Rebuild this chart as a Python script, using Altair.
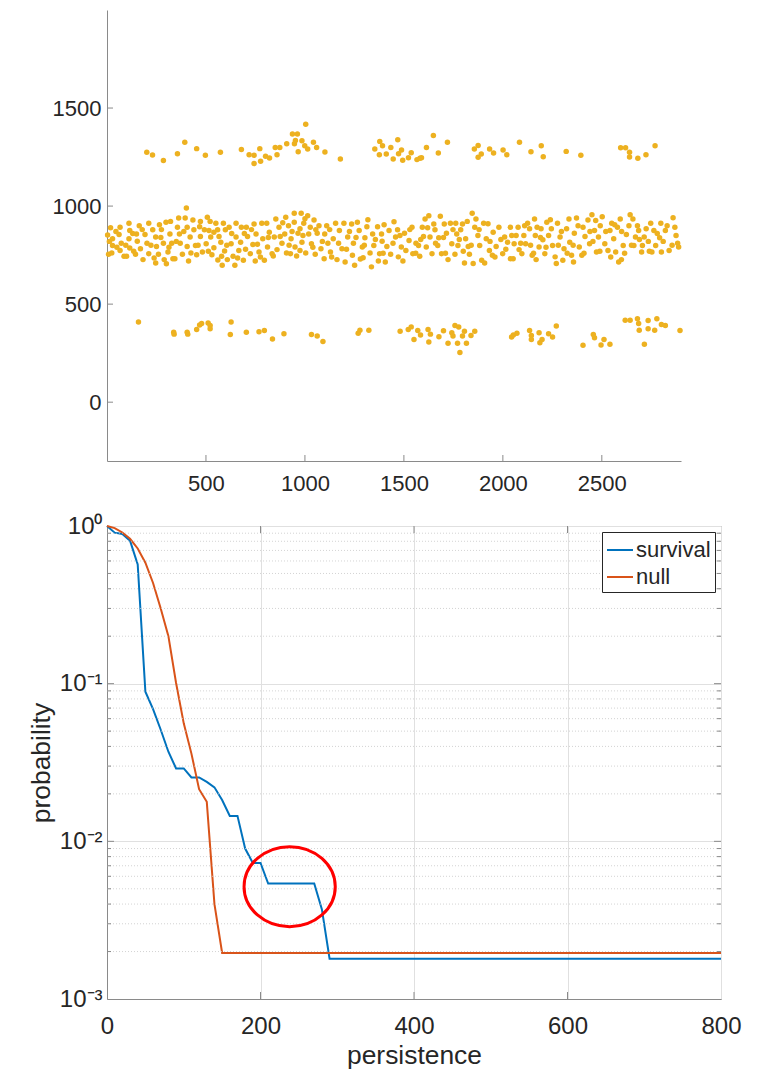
import altair as alt
import pandas as pd

# ---------------- top panel data ----------------
high_points = [(201,1274),(230,1261),(285,1232),(356,1267),(393,1326),(453,1293),(497,1259),(573,1274),
 (679,1289),(718,1262),(743,1259),(743,1217),(772,1293),(776,1229),(801,1254),(821,1245),(850,1299),
 (859,1262),(873,1299),(908,1318),(937,1368),(947,1318),(952,1335),(962,1368),(966,1277),(985,1333),
 (1004,1417),(999,1308),(1014,1291),(1043,1325),(1059,1299),(1101,1276),(1179,1240),(1353,1291),
 (1378,1330),(1376,1262),(1392,1308),(1411,1266),(1434,1299),(1446,1240),(1469,1338),(1473,1267),
 (1488,1286),(1494,1234),(1523,1247),(1537,1272),(1566,1237),(1581,1244),(1589,1247),(1614,1299),
 (1649,1360),(1674,1271),(1720,1326),(1856,1291),(1875,1309),(1875,1249),(1891,1266),(1933,1291),
 (1953,1271),(2001,1286),(2020,1262),(2084,1326),(2142,1277),(2194,1308),(2204,1252),(2320,1279),
 (2394,1259),(2595,1298),(2620,1298),(2640,1274),(2640,1250),(2682,1244),(2723,1262),(2769,1308)]

mid_points = [(3,853),(18,889),(28,833),(28,799),(8,754),(24,761),(66,892),(61,855),(72,811),(66,774),
 (86,744),(99,744),(111,912),(115,875),(111,833),(115,786),(144,754),(149,858),(153,821),(163,900),
 (169,783),(182,727),(192,855),(202,811),(211,912),(211,757),(231,879),(246,842),(246,710),(250,794),
 (260,754),(275,880),(285,811),(289,727),(300,706),(298,917),(308,766),(318,858),(321,922),(327,811),
 (333,732),(343,732),(356,892),(362,939),(366,858),(370,811),(381,754),(395,939),(401,990),(405,892),
 (405,794),(420,842),(424,761),(434,929),(439,879),(447,799),(453,752),(472,922),(472,845),(482,766),
 (492,879),(501,808),(507,943),(521,922),(524,842),(530,752),(540,788),(540,867),(550,912),(559,879),
 (575,816),(579,744),(582,698),(588,912),(594,771),(598,879),(608,727),(617,892),(627,808),(637,744),
 (646,698),(652,912),(652,842),(666,774),(679,892),(675,816),(689,724),(704,892),(710,845),(724,757),
 (737,804),(743,909),(749,720),(753,858),(768,766),(782,912),(787,833),(795,724),(807,912),(811,791),
 (820,867),(834,757),(845,842),(853,934),(859,778),(869,892),(884,811),(898,858),(903,943),(907,761),
 (917,900),(927,757),(930,833),(946,963),(946,917),(950,791),(965,862),(975,884),(981,963),(975,774),
 (985,816),(994,912),(1004,761),(1014,951),(1019,858),(1027,892),(1033,808),(1046,929),(1052,754),
 (1062,862),(1071,900),(1081,783),(1097,732),(1100,858),(1110,900),(1116,811),(1129,766),(1143,833),
 (1155,912),(1162,727),(1174,875),(1187,783),(1197,912),(1203,715),(1216,842),(1236,909),(1240,749),
 (1245,811),(1251,698),(1265,917),(1274,875),(1290,791),(1294,737),(1303,838),(1313,895),(1329,761),
 (1336,690),(1342,858),(1348,799),(1367,895),(1371,720),(1377,757),(1387,858),(1390,821),(1406,715),
 (1414,794),(1425,875),(1433,754),(1458,842),(1468,879),(1472,741),(1487,791),(1503,862),(1510,774),
 (1526,825),(1541,892),(1545,757),(1561,811),(1574,799),(1580,744),(1593,892),(1599,845),(1607,934),
 (1613,791),(1626,951),(1632,842),(1642,757),(1651,909),(1657,879),(1671,799),(1676,838),(1684,948),
 (1690,757),(1704,909),(1715,862),(1723,727),(1735,912),(1742,808),(1758,754),(1762,912),(1767,858),
 (1773,799),(1787,879),(1796,909),(1806,710),(1812,833),(1820,922),(1825,794),(1831,754),(1845,963),
 (1850,707),(1858,892),(1864,934),(1874,850),(1883,799),(1893,724),(1903,912),(1908,710),(1916,833),
 (1932,774),(1947,749),(1951,867),(1966,794),(1980,892),(1999,757),(2009,842),(2024,816),(2038,892),
 (2038,732),(2052,732),(2057,808),(2067,850),(2077,892),(2082,778),(2096,757),(2106,850),(2115,808),
 (2125,912),(2135,884),(2148,749),(2160,934),(2164,850),(2168,727),(2173,892),(2183,791),(2193,884),
 (2202,828),(2212,757),(2222,917),(2231,850),(2245,884),(2251,799),(2264,741),(2270,707),(2276,912),
 (2289,842),(2303,724),(2309,783),(2322,884),(2334,934),(2338,816),(2347,749),(2357,715),(2361,862),
 (2372,939),(2386,791),(2399,749),(2405,892),(2415,845),(2430,929),(2438,808),(2450,956),(2463,875),
 (2469,926),(2473,766),(2483,842),(2492,900),(2502,946),(2515,808),(2531,774),(2541,875),(2550,912),
 (2560,833),(2570,766),(2579,892),(2585,715),(2593,934),(2599,727),(2608,799),(2624,855),(2637,900),
 (2643,956),(2657,934),(2662,799),(2670,842),(2686,875),(2701,766),(2705,799),(2714,842),(2724,884),
 (2747,912),(2753,766),(2763,875),(2772,799),(2792,838),(2798,912),(2801,766),(2821,875),(2840,774),
 (2869,892),(2875,850),(2883,811),(2888,791)]

mid_points_extra = [(12,820),(45,870),(50,790),(95,800),(130,860),(135,770),(178,880),(222,800),(238,735),
 (265,905),(272,840),(313,790),(350,820),(388,870),(412,720),(460,800),(468,895),(512,770),(515,875),
 (560,725),(566,845),(605,800),(630,860),(660,735),(694,860),(700,780),(730,880),(760,805),(775,740),
 (815,840),(840,745),(875,845),(888,915),(920,800),(935,870),(958,745),(990,850),(1000,935),(1040,790),
 (1055,880),(1088,820),(1125,880),(1135,740),(1170,810),(1210,780),(1225,870),(1258,840),(1280,730),
 (1300,800),(1318,930),(1356,830),(1395,760),(1400,905),(1445,810),(1450,920),(1480,850),(1495,720),
 (1530,880),(1560,760),(1585,830),(1620,890),(1660,810),(1700,840),(1710,760),(1748,880),(1780,830),
 (1800,770),(1840,800),(1880,880),(1925,910),(1935,820),(1960,740),(1990,830),(2015,780),(2045,850),
 (2090,810),(2110,900),(2140,800),(2155,760),(2190,840),(2218,790),(2240,930),(2280,800),(2296,870),
 (2325,760),(2355,800),(2380,900),(2410,760),(2440,870),(2455,820),(2490,770),(2520,870),(2545,740),
 (2565,905),(2600,870),(2615,760),(2650,800),(2680,900),(2690,830),(2735,820),(2740,770),(2780,860),
 (2810,820),(2830,900),(2855,800),(2860,940)]

low_points = [(159,409),(337,357),(339,347),(405,357),(408,347),(453,371),(468,393),(478,401),(511,404),
 (521,391),(521,374),(627,409),(623,345),(704,357),(768,359),(795,366),(836,322),(894,349),(1033,345),
 (1062,337),(1091,310),(1269,351),(1278,367),(1323,367),(1481,362),(1522,371),(1537,384),(1551,320),
 (1570,366),(1584,342),(1622,371),(1626,307),(1634,347),(1677,334),(1700,364),(1723,300),(1742,354),
 (1748,337),(1758,391),(1777,383),(1771,300),(1783,253),(1796,337),(1806,362),(1816,300),(1839,340),
 (1858,362),(2044,332),(2053,342),(2071,351),(2135,366),(2144,340),(2144,320),(2183,354),(2187,303),
 (2198,320),(2231,349),(2251,332),(2270,388),(2405,290),(2457,345),(2463,329),(2496,292),(2511,320),
 (2541,295),(2618,418),(2643,418),(2680,425),(2686,401),(2689,367),(2715,295),(2734,416),(2734,374),
 (2767,367),(2778,425),(2801,396),(2821,391),(2895,366)]

top_x_ticks = [500, 1000, 1500, 2000, 2500]
top_y_ticks = [0, 500, 1000, 1500]

# ---------------- bottom panel data ----------------
persistence = [0, 10, 20, 30, 40, 50, 60, 70, 80, 90, 100, 110, 120, 130, 140, 150, 160, 170, 180, 190,
               200, 210, 220, 230, 240, 250, 260, 270, 280, 290, 300, 800]
survival = [1.0, 0.907, 0.889, 0.807, 0.57, 0.089, 0.069, 0.051, 0.037, 0.029, 0.029, 0.0254, 0.0254,
            0.0238, 0.022, 0.0183, 0.0145, 0.0145, 0.0090, 0.0073, 0.0073, 0.0054, 0.0054, 0.0054, 0.0054,
            0.0054, 0.0054, 0.0054, 0.0037, 0.0018, 0.0018, 0.0018]
null = [1.0, 0.97, 0.91, 0.83, 0.72, 0.585, 0.435, 0.30, 0.20, 0.101, 0.056, 0.036, 0.0214, 0.0178,
        0.0040, 0.00196, 0.00196, 0.00196, 0.00196, 0.00196, 0.00196, 0.00196, 0.00196, 0.00196, 0.00196,
        0.00196, 0.00196, 0.00196, 0.00196, 0.00196, 0.00196, 0.00196]
bottom_x_ticks = [0, 200, 400, 600, 800]
bottom_y_ticks = [0.001, 0.01, 0.1, 1]
minor_y = [0.002, 0.003, 0.004, 0.005, 0.006, 0.007, 0.008, 0.009,
           0.02, 0.03, 0.04, 0.05, 0.06, 0.07, 0.08, 0.09,
           0.2, 0.3, 0.4, 0.5, 0.6, 0.7, 0.8, 0.9]
highlight = {"persistence": [238], "probability": [0.00516]}

FONT = "Liberation Sans"
TXT = "#262626"
AX = "#8a8a8a"

# ---------------- top panel ----------------
TW, TH = 574, 451
all_pts = high_points + mid_points + mid_points_extra + low_points
pts = pd.DataFrame({"t": [p[0] for p in all_pts], "v": [p[1] for p in all_pts]})
xs_top = alt.Scale(domain=[0, 2900], nice=False, zero=False)
ys_top = alt.Scale(domain=[-300, 2000], nice=False, zero=False)
ax_tx = alt.Axis(values=top_x_ticks, title=None, ticks=False, grid=False, labelFontSize=22, format="d",
                 labelPadding=12, domainColor=AX, labelFlush=False)
ax_ty = alt.Axis(values=top_y_ticks, title=None, ticks=False, grid=False, labelFontSize=22, format="d",
                 labelPadding=6, domainColor=AX)

scatter = alt.Chart(pts).mark_circle(size=30, color="#EDB120", opacity=1).encode(
    x=alt.X("t:Q", scale=xs_top, axis=ax_tx),
    y=alt.Y("v:Q", scale=ys_top, axis=ax_ty),
)
ytick_top = alt.Chart(pd.DataFrame({"v": top_y_ticks})).mark_rule(color=AX).encode(
    y=alt.Y("v:Q", scale=ys_top, axis=ax_ty), x=alt.value(0), x2=alt.value(6))
xtick_top = alt.Chart(pd.DataFrame({"t": top_x_ticks})).mark_rule(color=AX).encode(
    x=alt.X("t:Q", scale=xs_top, axis=ax_tx), y=alt.value(TH), y2=alt.value(TH - 6))
top = alt.layer(scatter, ytick_top, xtick_top).properties(width=TW, height=TH)

# ---------------- bottom panel ----------------
BW, BH = 614, 473
xs_b = alt.Scale(domain=[0, 800], nice=False, zero=False)
ys_b = alt.Scale(type="log", domain=[0.001, 1], nice=False)

curves = pd.DataFrame({
    "persistence": persistence * 2,
    "probability": survival + null,
    "series": ["survival"] * len(persistence) + ["null"] * len(persistence),
})

label_expr = ("datum.value >= 0.5 ? '10\u2070' : datum.value >= 0.05 ? '10\u207b\u00b9' : "
              "datum.value >= 0.005 ? '10\u207b\u00b2' : '10\u207b\u00b3'")
ax_bx = alt.Axis(values=bottom_x_ticks, title="persistence", grid=True, gridColor="#e0e0e0", ticks=False,
                 labelFontSize=24, labelPadding=15, titleFontSize=26.4, titlePadding=4, domainColor=AX,
                 labelFlush=False)
ax_by = alt.Axis(values=bottom_y_ticks, title="probability", labelExpr=label_expr, grid=True,
                 gridColor="#e0e0e0", ticks=False, labelFontSize=24, labelPadding=5, titleFontSize=26.4,
                 titlePadding=4, domainColor=AX)

lines = alt.Chart(curves).mark_line(strokeWidth=2).encode(
    x=alt.X("persistence:Q", scale=xs_b, axis=ax_bx),
    y=alt.Y("probability:Q", scale=ys_b, axis=ax_by),
    color=alt.Color("series:N", scale=alt.Scale(domain=["survival", "null"], range=["#0072BD", "#D95319"]),
                    legend=alt.Legend(title=None, orient="top-right", offset=6, padding=4,
                                      strokeColor="#262626", fillColor="white", labelFontSize=22,
                                      labelFont=FONT, labelColor=TXT, symbolType="stroke", symbolSize=676,
                                      symbolStrokeWidth=2, labelOffset=2, rowPadding=2)),
    order=alt.Order("persistence:Q"),
)

minor_df = pd.DataFrame({"probability": minor_y})
minor_grid = alt.Chart(minor_df).mark_rule(color="#c8c8c8", strokeWidth=0.8, strokeDash=[1, 2]).encode(
    y=alt.Y("probability:Q", scale=ys_b, axis=ax_by), x=alt.value(0), x2=alt.value(BW))
minor_tick_l = alt.Chart(minor_df).mark_rule(color=AX).encode(
    y=alt.Y("probability:Q", scale=ys_b, axis=ax_by), x=alt.value(0), x2=alt.value(4))
minor_tick_r = alt.Chart(minor_df).mark_rule(color=AX).encode(
    y=alt.Y("probability:Q", scale=ys_b, axis=ax_by), x=alt.value(BW - 4), x2=alt.value(BW))
xt_df = pd.DataFrame({"persistence": bottom_x_ticks[1:-1]})
xtick_b = alt.Chart(xt_df).mark_rule(color=AX).encode(
    x=alt.X("persistence:Q", scale=xs_b, axis=ax_bx), y=alt.value(BH), y2=alt.value(BH - 7))
xtick_t = alt.Chart(xt_df).mark_rule(color=AX).encode(
    x=alt.X("persistence:Q", scale=xs_b, axis=ax_bx), y=alt.value(0), y2=alt.value(7))
yt_df = pd.DataFrame({"probability": bottom_y_ticks[1:-1]})
ytick_l = alt.Chart(yt_df).mark_rule(color=AX).encode(
    y=alt.Y("probability:Q", scale=ys_b, axis=ax_by), x=alt.value(0), x2=alt.value(7))
ytick_r = alt.Chart(yt_df).mark_rule(color=AX).encode(
    y=alt.Y("probability:Q", scale=ys_b, axis=ax_by), x=alt.value(BW - 7), x2=alt.value(BW))

ring_path = "M -1.14 0 A 1.14 1 0 1 1 1.14 0 A 1.14 1 0 1 1 -1.14 0 Z"
ring = alt.Chart(pd.DataFrame(highlight)).mark_point(
    shape=ring_path, size=6400, filled=False, stroke="#FF0000", strokeWidth=3, opacity=1).encode(
    x=alt.X("persistence:Q", scale=xs_b, axis=ax_bx),
    y=alt.Y("probability:Q", scale=ys_b, axis=ax_by))

bottom = alt.layer(lines, minor_grid, minor_tick_l, minor_tick_r, xtick_b, xtick_t, ytick_l, ytick_r,
                   ring).properties(width=BW, height=BH,
                                    view=alt.ViewBackground(stroke=AX, strokeWidth=1))

chart = alt.vconcat(top, bottom, spacing=19).resolve_scale(color="independent").resolve_legend(
    color="independent").properties(
    padding={"left": 19, "top": 2, "right": 5, "bottom": 0}
).configure_view(stroke=None).configure_axis(
    labelFont=FONT, titleFont=FONT, labelColor=TXT, titleColor=TXT, titleFontWeight="normal",
    domainWidth=1
)

chart.save("out.html", embed_options={"renderer": "svg", "actions": False})
